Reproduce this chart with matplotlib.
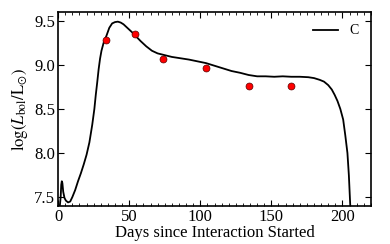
import matplotlib
matplotlib.use("Agg")
import matplotlib.pyplot as plt
from matplotlib.ticker import MultipleLocator, FormatStrFormatter

# model light curve (days, log L)
days = [1.2, 1.8, 2.2, 2.6, 3.0, 3.6, 4.5, 5.5, 7.0, 8.5, 10, 12, 14, 16, 18, 20, 22, 24,
        25.5, 26.5, 27.5, 28.5, 29.5, 30.5, 32, 34, 36, 38, 40, 42, 44, 46, 48, 50,
        52, 55, 58, 62, 66, 70, 75, 80, 86, 92, 98, 104, 110, 116, 122, 128, 134,
        140, 146, 152, 158, 164, 170, 176, 180, 184, 187, 190, 192.5, 194.5, 196.5,
        198.5, 200.5, 202, 203.5, 204.5, 205.5]
logL = [7.40, 7.50, 7.64, 7.68, 7.66, 7.56, 7.49, 7.46, 7.44, 7.45, 7.50, 7.58, 7.68,
        7.77, 7.87, 7.98, 8.12, 8.32, 8.50, 8.66, 8.80, 8.95, 9.07, 9.16, 9.25,
        9.33, 9.42, 9.47, 9.485, 9.49, 9.48, 9.46, 9.43, 9.40, 9.37, 9.32, 9.27,
        9.21, 9.16, 9.13, 9.11, 9.09, 9.075, 9.06, 9.04, 9.02, 8.99, 8.96, 8.93,
        8.91, 8.885, 8.87, 8.87, 8.865, 8.87, 8.865, 8.865, 8.86, 8.85, 8.83,
        8.81, 8.77, 8.72, 8.66, 8.59, 8.50, 8.38, 8.20, 8.0, 7.75, 7.40]

# observed points
obs_days = [34, 54, 74, 104, 134, 164]
obs_logL = [9.285, 9.35, 9.07, 8.96, 8.765, 8.76]

plt.rcParams['font.family'] = ['Liberation Serif', 'DejaVu Serif']
plt.rcParams['mathtext.fontset'] = 'stix'
plt.rcParams['font.size'] = 12

fig = plt.figure(figsize=(3.9, 2.44), dpi=100)
ax = fig.add_axes([0.149, 0.156, 0.802, 0.795])

ax.plot(days, logL, color='black', lw=1.3, label='C')
ax.plot(obs_days, obs_logL, 'o', color='red', mec='#550000', mew=0.5, ms=5)

ax.set_xlim(0, 220)
ax.set_ylim(7.4, 9.6)
ax.xaxis.set_major_locator(MultipleLocator(50))
ax.xaxis.set_minor_locator(MultipleLocator(5))
ax.yaxis.set_major_locator(MultipleLocator(0.5))
ax.yaxis.set_major_formatter(FormatStrFormatter('%.1f'))
ax.tick_params(which='both', direction='in', top=True, right=True)
ax.tick_params(which='major', length=4, pad=2)
ax.tick_params(which='minor', length=2)
for s in ax.spines.values():
    s.set_linewidth(1.2)

ax.set_xlabel('Days since Interaction Started', labelpad=0)
ax.set_ylabel(r'$\log(L_{\rm bol}/{\rm L}_{\odot})$', labelpad=3)
ax.legend(loc='upper right', frameon=False, fontsize=10, handlelength=1.8)

fig.savefig('out.png', dpi=100)
